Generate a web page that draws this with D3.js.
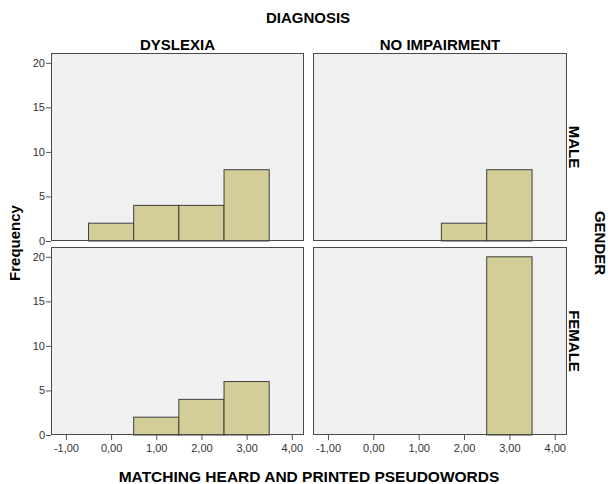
<!DOCTYPE html>
<html>
  <head>
    <meta charset="utf-8">
    <script src="https://cdnjs.cloudflare.com/ajax/libs/d3/7.8.5/d3.min.js"></script>
    <style>
      body { margin: 0; background: #fff; }
      text { font-family: "Liberation Sans", Arial, sans-serif; }
    </style>
  </head>
<body>
  <div id="chart"></div>
  <script type="text/javascript">

    // data
    var diagnoses = ["DYSLEXIA", "NO IMPAIRMENT"];
    var genders = ["MALE", "FEMALE"];
    var scores = [0, 1, 2, 3];
    var dyslexiaMale = [2, 4, 4, 8];
    var dyslexiaFemale = [0, 2, 4, 6];
    var noImpairmentMale = [0, 0, 2, 8];
    var noImpairmentFemale = [0, 0, 0, 20];
    var xTicks = [-1, 0, 1, 2, 3, 4];
    var yTicks = [0, 5, 10, 15, 20];

    var counts = {
      "DYSLEXIA|MALE": dyslexiaMale,
      "DYSLEXIA|FEMALE": dyslexiaFemale,
      "NO IMPAIRMENT|MALE": noImpairmentMale,
      "NO IMPAIRMENT|FEMALE": noImpairmentFemale
    };

    var svg = d3.select("#chart").append("svg")
      .attr("width", 608)
      .attr("height", 484);

    // panel positions
    var cols = [{ x0: 51, x1: 304 }, { x0: 313, x1: 567 }];
    var rows = [{ y0: 53, y1: 241 }, { y0: 247, y1: 435 }];

    // SPSS style labels: comma decimals, plain hyphen minus
    var fmt = function (d) {
      return d3.format(".2f")(d).replace(".", ",").replace("\u2212", "-");
    };

    diagnoses.forEach(function (diag, ci) {
      genders.forEach(function (gen, ri) {
        var c = cols[ci], r = rows[ri];
        var x = d3.scaleLinear().domain([-1.33, 4.27]).range([c.x0, c.x1]);
        var y = d3.scaleLinear().domain([0, 21.1]).range([r.y1, r.y0]);

        var g = svg.append("g");

        // panel background
        g.append("rect")
          .attr("x", c.x0)
          .attr("y", r.y0)
          .attr("width", c.x1 - c.x0)
          .attr("height", r.y1 - r.y0)
          .style("fill", "#f0f0f0");

        // histogram bars
        var vals = counts[diag + "|" + gen];
        g.selectAll(".bar")
          .data(scores.map(function (s, i) { return { s: s, n: vals[i] }; })
            .filter(function (d) { return d.n > 0; }))
          .enter()
          .append("rect")
            .attr("x", function (d) { return x(d.s - 0.5); })
            .attr("y", function (d) { return y(d.n); })
            .attr("width", function (d) { return x(d.s + 0.5) - x(d.s - 0.5); })
            .attr("height", function (d) { return y(0) - y(d.n); })
            .style("fill", "#d3cd97")
            .style("stroke", "#3e3e3e")
            .style("stroke-width", 1);

        // panel frame
        g.append("rect")
          .attr("x", c.x0 + 0.5)
          .attr("y", r.y0 + 0.5)
          .attr("width", c.x1 - c.x0 - 1)
          .attr("height", r.y1 - r.y0 - 1)
          .style("fill", "none")
          .style("stroke", "#4a4a4a")
          .style("stroke-width", 1);

        // y axis on left column
        if (ci === 0) {
          var ya = g.append("g")
            .attr("transform", "translate(" + c.x0 + ",0)")
            .call(d3.axisLeft(y).tickValues(yTicks).tickSize(5).tickPadding(1).tickFormat(d3.format("d")));
          ya.select(".domain").remove();
          ya.selectAll("line").style("stroke", "#555");
          ya.selectAll("text").style("font-size", "11px").style("fill", "#333")
            .style("font-family", "'Liberation Sans', Arial, sans-serif");
        }

        // x axis on bottom row
        if (ri === 1) {
          var xa = g.append("g")
            .attr("transform", "translate(0," + r.y1 + ")")
            .call(d3.axisBottom(x).tickValues(xTicks).tickSize(5).tickPadding(4).tickFormat(fmt));
          xa.select(".domain").remove();
          xa.selectAll("line").style("stroke", "#555");
          xa.selectAll("text").style("font-size", "11px").style("fill", "#333")
            .style("font-family", "'Liberation Sans', Arial, sans-serif");
        }
      });
    });

    // column titles
    svg.append("text")
      .attr("x", 308)
      .attr("y", 23)
      .attr("text-anchor", "middle")
      .style("font-size", "15px")
      .style("font-weight", "bold")
      .text("DIAGNOSIS");

    svg.selectAll(".coltitle")
      .data(diagnoses)
      .enter()
      .append("text")
        .attr("x", function (d, i) { return (cols[i].x0 + cols[i].x1) / 2; })
        .attr("y", 50)
        .attr("text-anchor", "middle")
        .style("font-size", "15px")
        .style("font-weight", "bold")
        .text(function (d) { return d; });

    // row titles
    svg.selectAll(".rowtitle")
      .data(genders)
      .enter()
      .append("text")
        .attr("transform", function (d, i) {
          return "translate(569," + (rows[i].y0 + rows[i].y1) / 2 + ") rotate(90)";
        })
        .attr("text-anchor", "middle")
        .style("font-size", "15px")
        .style("font-weight", "bold")
        .text(function (d) { return d; });

    svg.append("text")
      .attr("transform", "translate(595,243) rotate(90)")
      .attr("text-anchor", "middle")
      .style("font-size", "15px")
      .style("font-weight", "bold")
      .text("GENDER");

    // axis titles
    svg.append("text")
      .attr("transform", "translate(20,243) rotate(-90)")
      .attr("text-anchor", "middle")
      .style("font-size", "15px")
      .style("font-weight", "bold")
      .text("Frequency");

    svg.append("text")
      .attr("x", 309)
      .attr("y", 482)
      .attr("text-anchor", "middle")
      .style("font-size", "15.5px")
      .style("font-weight", "bold")
      .text("MATCHING HEARD AND PRINTED PSEUDOWORDS");

  </script>
</body>
</html>
